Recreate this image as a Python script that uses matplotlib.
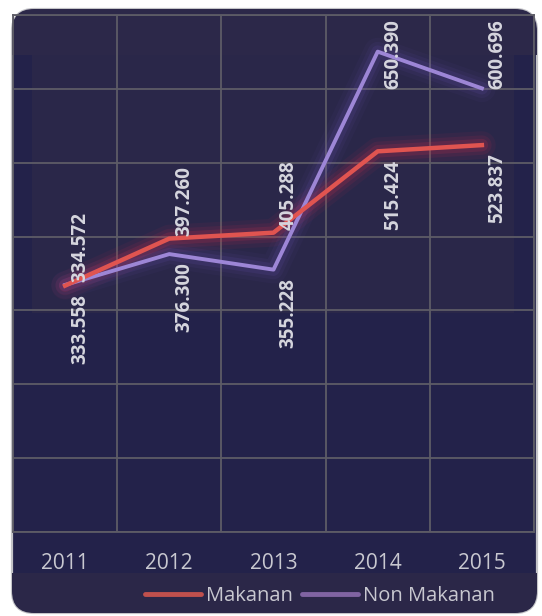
import numpy as np
import matplotlib.pyplot as plt
from matplotlib.patches import FancyBboxPatch, Rectangle

# Data
years = ["2011", "2012", "2013", "2014", "2015"]
makanan = [333.558, 397.260, 405.288, 515.424, 523.837]
non_makanan = [334.572, 376.300, 355.228, 650.390, 600.696]

# where each value label sits relative to its point
makanan_label_pos = ["below", "above", "above", "below", "below"]
non_makanan_label_pos = ["above", "below", "below", "top", "top"]

W, H = 542, 616
BG = "#23224a"
TEXT = "#d6d6de"
GRID = "#5d5c66"
RED = "#e05450"
PURPLE = "#9d86d6"

fig = plt.figure(figsize=(W / 100, H / 100), dpi=100)
fig.patch.set_facecolor("white")

# Background card (pixel coords)
bg = fig.add_axes([0, 0, 1, 1], zorder=0)
bg.set_xlim(0, W)
bg.set_ylim(H, 0)
bg.axis("off")
card = FancyBboxPatch((12, 9), 525, 604, boxstyle="round,pad=0,rounding_size=22",
                      facecolor=BG, edgecolor="#c4c4c8", lw=1.6)
bg.add_patch(card)
# lighter bands from the original screenshot
for x0, y0, w, h, c in [(12, 9, 525, 46, "#2c2849"),
                        (32, 55, 482, 258, "#2a2749"),
                        (12, 573, 525, 40, "#2b2748")]:
    r = Rectangle((x0, y0), w, h, facecolor=c, edgecolor="none")
    r.set_clip_path(card)
    bg.add_patch(r)

# Main chart
ax = fig.add_axes([13 / W, (H - 532) / H, 521 / W, 517 / H], zorder=1)
ax.set_facecolor("none")
x = np.arange(len(years))
ax.set_xlim(-0.5, len(years) - 0.5)
ax.set_ylim(0, 700)
ax.set_yticks(np.arange(0, 701, 100))
ax.set_xticks(x)
ax.set_xticks(np.arange(-0.5, len(years), 1), minor=True)
ax.set_xticklabels(years, fontsize=15, color="#c8c8d0", family="Open Sans")
ax.tick_params(axis="x", which="both", length=0, pad=15)
ax.tick_params(axis="y", length=0, labelleft=False)
ax.grid(which="minor", axis="x", color=GRID, lw=1.3)
ax.grid(which="major", axis="y", color=GRID, lw=1.3)
for s in ax.spines.values():
    s.set_color(GRID)
    s.set_linewidth(1.3)

# glow + core lines
for lw, a in [(20, 0.07), (14, 0.11), (9, 0.18)]:
    ax.plot(x, makanan, color="#c8304a", lw=lw, alpha=a, solid_capstyle="round", zorder=2)
    ax.plot(x, non_makanan, color="#7a5ad0", lw=lw, alpha=a * 0.6, solid_capstyle="round", zorder=2)
ax.plot(x, non_makanan, color=PURPLE, lw=2.8, zorder=3)
ax.plot(x, makanan, color=RED, lw=3.2, zorder=4)


def add_labels(vals, positions):
    for i, (v, p) in enumerate(zip(vals, positions)):
        kw = dict(rotation=90, ha="center", color=TEXT, fontsize=13.5,
                  fontweight="bold", family="Open Sans", zorder=5,
                  textcoords="offset points")
        if p == "above":
            ax.annotate(f"{v:.3f}", (i, v), xytext=(11, 2), va="bottom", **kw)
        elif p == "below":
            ax.annotate(f"{v:.3f}", (i, v), xytext=(11, -6), va="top", **kw)
        else:
            ax.annotate(f"{v:.3f}", (i, 1), xycoords=("data", "axes fraction"),
                        xytext=(11, -3), va="top", **kw)


add_labels(makanan, makanan_label_pos)
add_labels(non_makanan, non_makanan_label_pos)

# Legend
h1, = ax.plot([], [], color="#c0504d", lw=3.5, solid_capstyle="round")
h2, = ax.plot([], [], color="#8064a2", lw=3.5, solid_capstyle="round")
fig.legend([h1, h2], ["Makanan", "Non Makanan"], loc="center",
           bbox_to_anchor=(320 / W, 1 - 596 / H), ncol=2, frameon=False,
           handlelength=2.8, handletextpad=0.25, columnspacing=0.45,
           prop={"family": "Open Sans", "size": 14.5}, labelcolor="#c8c8d0")

fig.savefig("out.png", dpi=100, facecolor="white")
